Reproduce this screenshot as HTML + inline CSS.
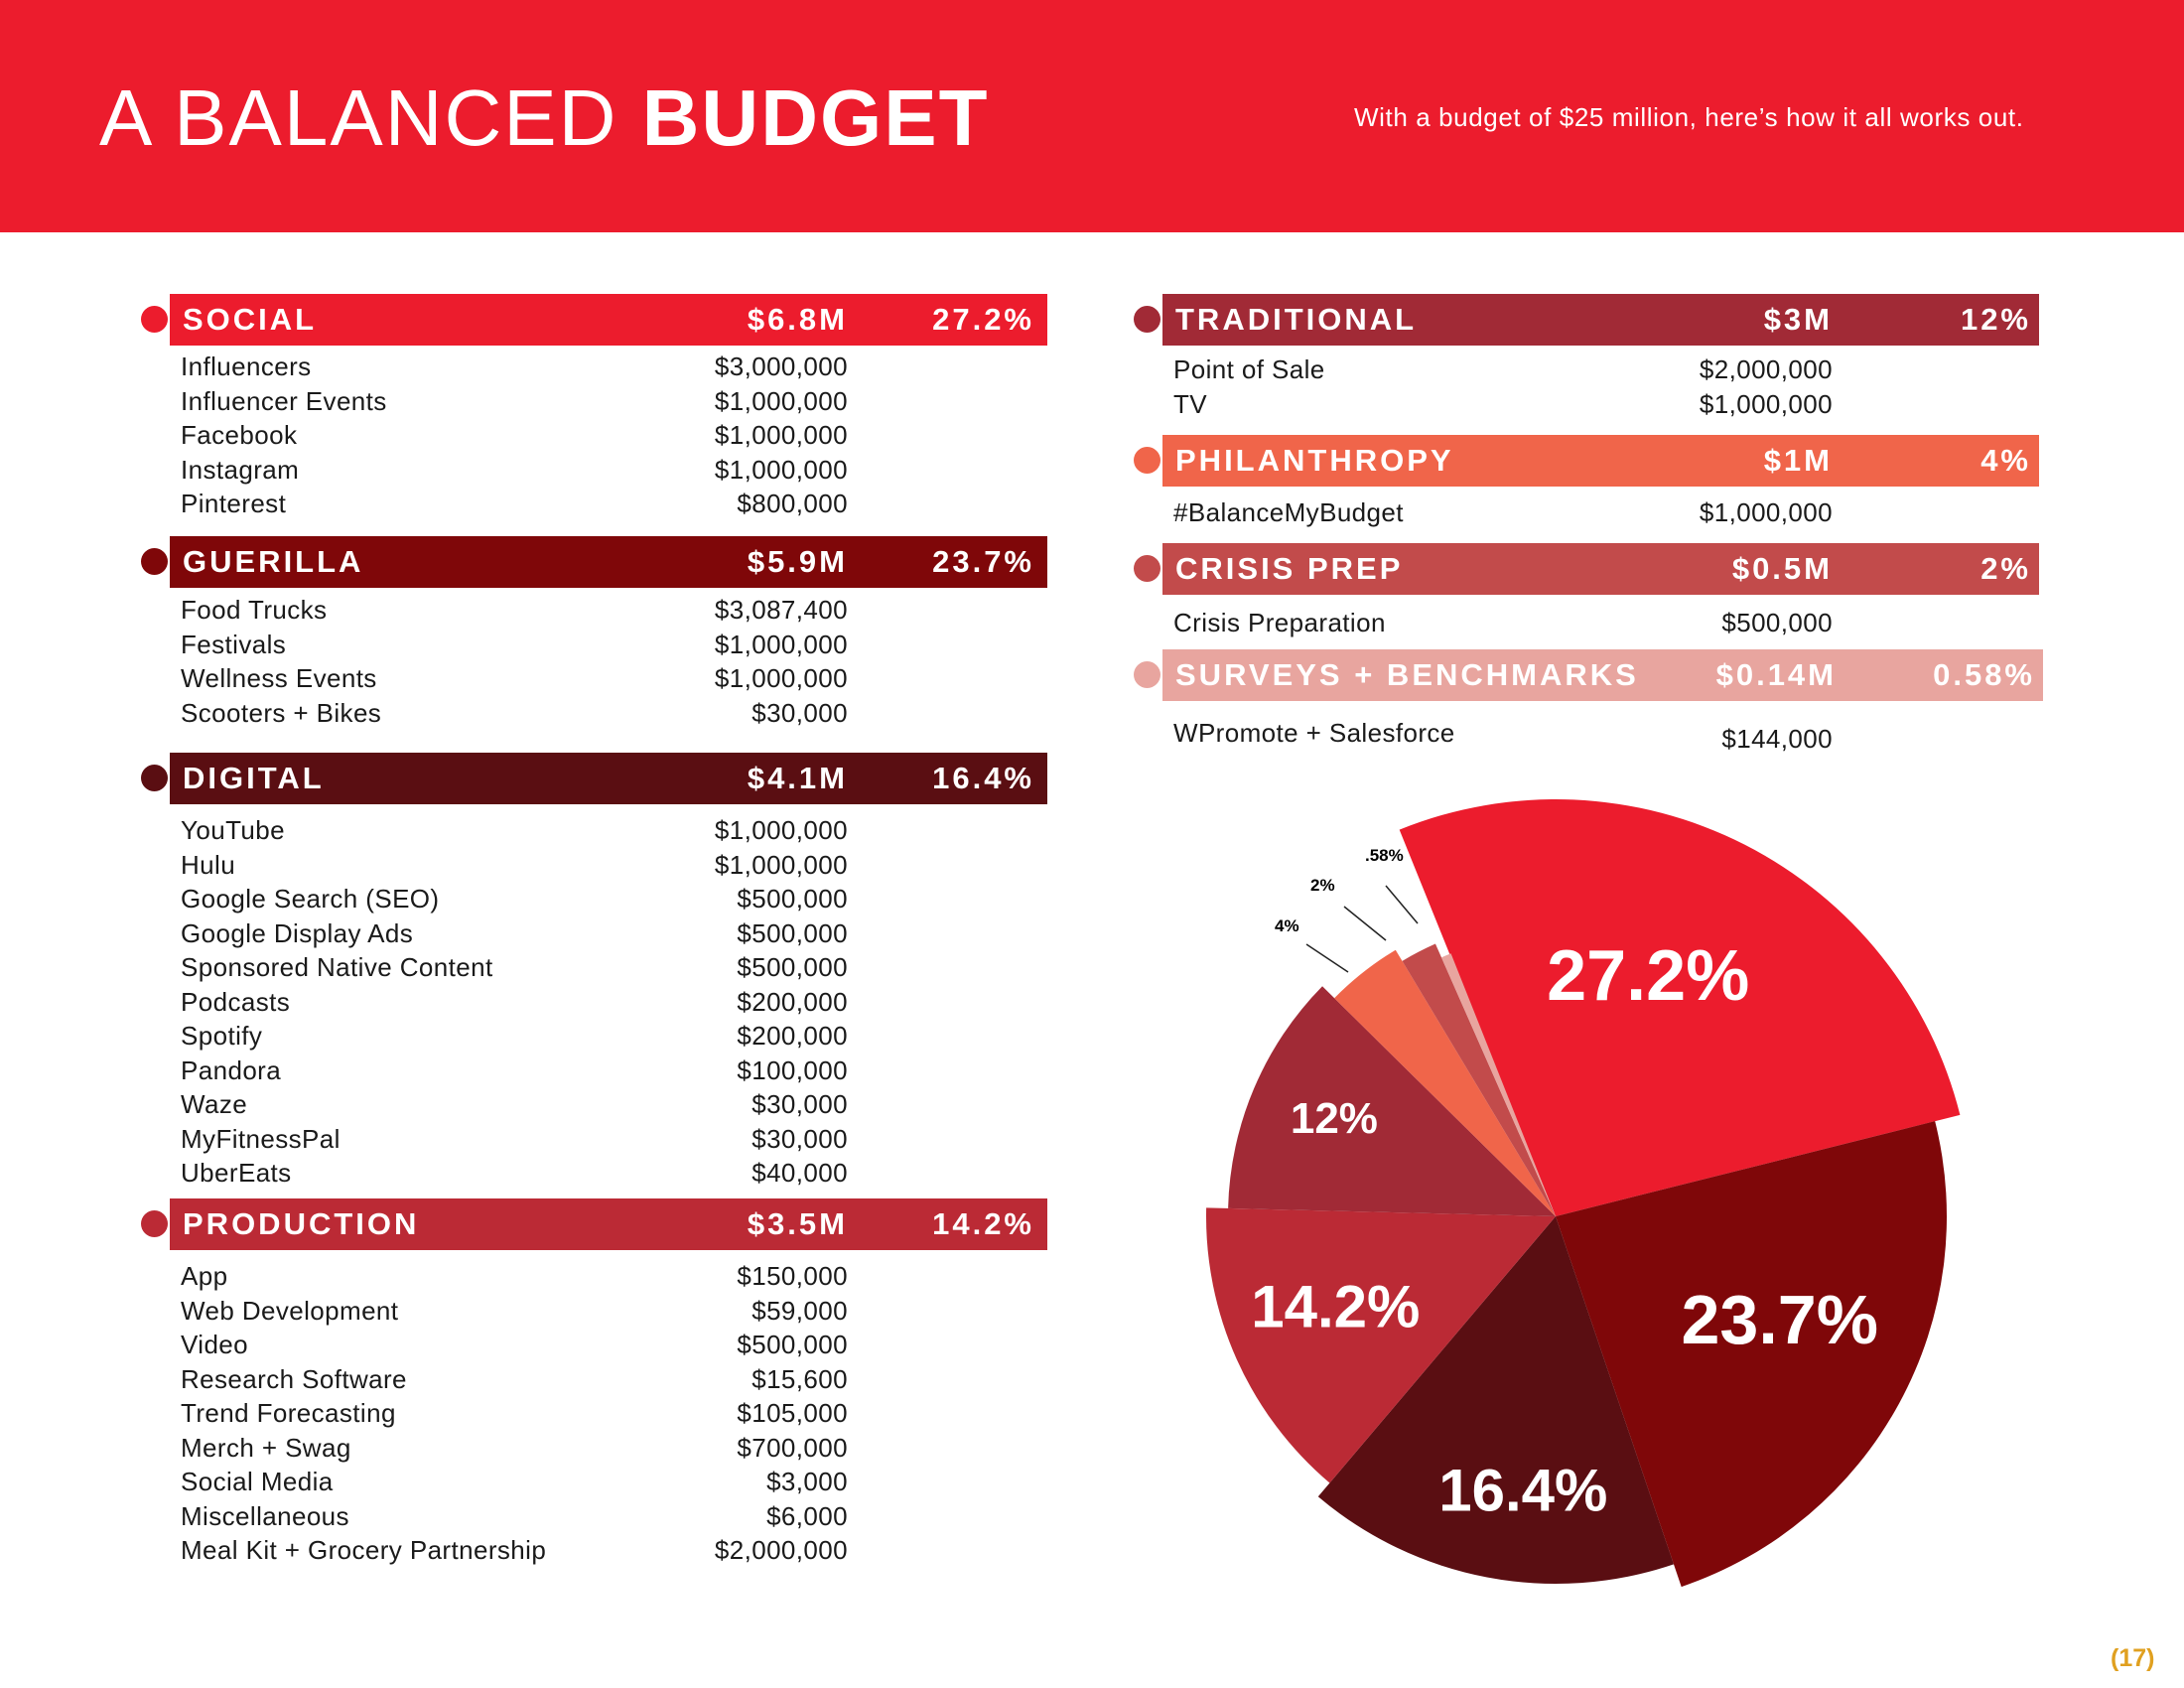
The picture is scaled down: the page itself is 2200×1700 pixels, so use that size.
<!DOCTYPE html>
<html><head><meta charset="utf-8">
<style>
*{margin:0;padding:0;box-sizing:border-box}
body{width:2200px;height:1700px;position:relative;background:#fff;font-family:"Liberation Sans",sans-serif;overflow:hidden;color:#1a1a1a}
#hdr{position:absolute;left:0;top:0;width:2200px;height:234px;background:#ec1c2d}
#title{position:absolute;left:100px;top:74px;font-size:80px;color:#fff;line-height:90px;letter-spacing:2px}
#sub{position:absolute;left:1364px;top:103px;font-size:26px;color:#fff;line-height:30px;letter-spacing:0.6px}
.bar{position:absolute;height:52px;color:#fff;font-weight:bold;font-size:31px;letter-spacing:3px;line-height:52px}
.bar .l{position:absolute;left:13px}
.bar .a{position:absolute;text-align:right}
.bar .p{position:absolute;text-align:right}
.dot{position:absolute;width:27px;height:27px;border-radius:50%}
.it{position:absolute;font-size:26px;line-height:30px;white-space:nowrap;letter-spacing:0.4px}
.am{position:absolute;font-size:26px;line-height:30px;text-align:right;width:300px;letter-spacing:0.4px}
#pg{position:absolute;left:2126px;top:1656px;font-size:25px;font-weight:bold;color:#e0a020}
</style></head><body>
<div id="hdr"></div>
<div id="title">A BALANCED <b>BUDGET</b></div>
<div id="sub">With a budget of $25 million, here’s how it all works out.</div>
<div id="tables"></div>
<svg id="pie" width="2200" height="1700" style="position:absolute;left:0;top:0"></svg>
<div id="pg">(17)</div>
<script>
const categories=["SOCIAL","GUERILLA","DIGITAL","PRODUCTION","TRADITIONAL","PHILANTHROPY","CRISIS PREP","SURVEYS + BENCHMARKS"];
const amounts=["$6.8M","$5.9M","$4.1M","$3.5M","$3M","$1M","$0.5M","$0.14M"];
const percents=[27.2,23.7,16.4,14.2,12,4,2,0.58];
const pctLabels=["27.2%","23.7%","16.4%","14.2%","12%","4%","2%","0.58%"];
const colors=["#ec1c2d","#7f0709","#5a0e12","#bb2a35","#a12a36","#f0654a","#c24b4b","#e8a59f"];
const items=[
[["Influencers","$3,000,000"],["Influencer Events","$1,000,000"],["Facebook","$1,000,000"],["Instagram","$1,000,000"],["Pinterest","$800,000"]],
[["Food Trucks","$3,087,400"],["Festivals","$1,000,000"],["Wellness Events","$1,000,000"],["Scooters + Bikes","$30,000"]],
[["YouTube","$1,000,000"],["Hulu","$1,000,000"],["Google Search (SEO)","$500,000"],["Google Display Ads","$500,000"],["Sponsored Native Content","$500,000"],["Podcasts","$200,000"],["Spotify","$200,000"],["Pandora","$100,000"],["Waze","$30,000"],["MyFitnessPal","$30,000"],["UberEats","$40,000"]],
[["App","$150,000"],["Web Development","$59,000"],["Video","$500,000"],["Research Software","$15,600"],["Trend Forecasting","$105,000"],["Merch + Swag","$700,000"],["Social Media","$3,000"],["Miscellaneous","$6,000"],["Meal Kit + Grocery Partnership","$2,000,000"]],
[["Point of Sale","$2,000,000"],["TV","$1,000,000"]],
[["#BalanceMyBudget","$1,000,000"]],
[["Crisis Preparation","$500,000"]],
[["WPromote + Salesforce","$144,000"]]];
const barTop=[296,540,758,1207,296,438,547,654];
const rowTop=[369,614,836,1285,372,516,627,738];
const rowGap=34.5;
const T=document.getElementById('tables');
for(let i=0;i<categories.length;i++){
  const right=i>=4;
  const x0=right?1171:171, x1=right?2054:1055;
  const dot=document.createElement('div');
  
  
  dot.className='dot';dot.style.background=colors[i];
  dot.style.left=(x0-29)+'px';dot.style.top=(barTop[i]+12)+'px';T.appendChild(dot);
  const b=document.createElement('div');
  
  
  b.className='bar';b.style.background=colors[i];
  b.style.left=x0+'px';b.style.top=barTop[i]+'px';b.style.width=(x1-x0+(i==7?4:0))+'px';
  const amR=right?1846:854, pR=right?2046:1042;
  b.innerHTML='<span class="l">'+categories[i]+'</span><span class="a" style="right:'+(x1-amR)+'px">'+amounts[i]+'</span><span class="p" style="right:'+(x1-pR)+'px">'+pctLabels[i]+'</span>';
  T.appendChild(b);
  items[i].forEach((r,j)=>{
    const y=rowTop[i]+j*rowGap-15;
    const a=document.createElement('div');
    
    
    a.className='it';a.style.left=(x0+11)+'px';a.style.top=y+'px';a.textContent=r[0];T.appendChild(a);
    const m=document.createElement('div');
    
    
    m.className='am';m.style.left=(amR-300)+'px';m.style.top=(y+(i==7?6:0))+'px';m.textContent=r[1];T.appendChild(m);
  });
}
const svg=document.getElementById('pie');const NS='http://www.w3.org/2000/svg';
const cx=1567,cy=1225,startDeg=-22;
const radii=[420,394,370,352,330,313,300,285];
const labelR=[0.62,0.63,0.75,0.68,0.74];
const labelDa=[-6,-4,-4,2,1];
const labelSize=[72,70,60,60,44];
let a0=startDeg;
const pt=(deg,r)=>[cx+r*Math.sin(deg*Math.PI/180),cy-r*Math.cos(deg*Math.PI/180)];
percents.forEach((p,i)=>{
  const span=p/100*360;const a1=a0+span;const r=radii[i];
  const s=pt(a0,r),e=pt(a1,r);
  const path=document.createElementNS(NS,'path');
  
  
  path.setAttribute('d',`M${cx},${cy}L${s[0]},${s[1]}A${r},${r} 0 ${span>180?1:0} 1 ${e[0]},${e[1]}Z`);
  path.setAttribute('fill',colors[i]);svg.appendChild(path);
  if(i<5){
    const m=pt((a0+a1)/2+labelDa[i],r*labelR[i]);
    const t=document.createElementNS(NS,'text');
    
    
    t.setAttribute('x',m[0]);t.setAttribute('y',m[1]+labelSize[i]*0.35);
    t.setAttribute('text-anchor','middle');t.setAttribute('fill','#fff');
    t.setAttribute('font-weight','bold');t.setAttribute('font-size',labelSize[i]);
    t.textContent=pctLabels[i];svg.appendChild(t);
  }
  a0=a1;
});
const small=[["4%",1284,938,1316,951,1358,979],["2%",1320,897,1354,913,1396,947],[".58%",1375,867,1396,892,1428,930]];
small.forEach(s=>{
  const t=document.createElementNS(NS,'text');
  
  
  t.setAttribute('x',s[1]);t.setAttribute('y',s[2]);t.setAttribute('font-size','17');t.setAttribute('font-weight','bold');
  t.textContent=s[0];svg.appendChild(t);
  const l=document.createElementNS(NS,'line');
  
  
  l.setAttribute('x1',s[3]);l.setAttribute('y1',s[4]);l.setAttribute('x2',s[5]);l.setAttribute('y2',s[6]);
  l.setAttribute('stroke','#222');l.setAttribute('stroke-width','1.5');svg.appendChild(l);
});
</script>
</body></html>
